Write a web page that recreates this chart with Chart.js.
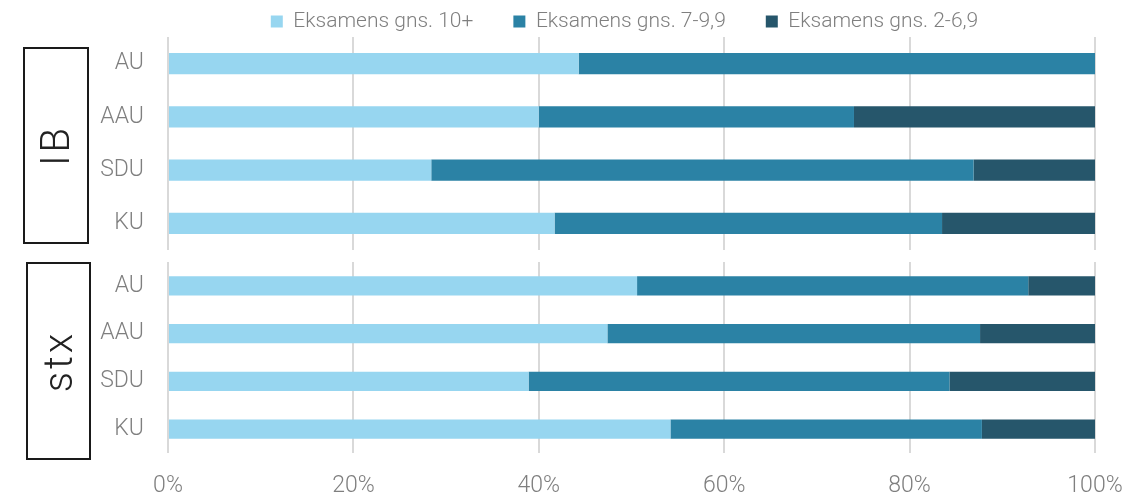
<!DOCTYPE html>
<html><head><meta charset="utf-8">
<script src="https://cdn.jsdelivr.net/npm/chart.js@4.4.1/dist/chart.umd.min.js"></script>
<style>
html,body{margin:0;padding:0;background:#fff;}
#wrap{position:relative;width:1124px;height:494px;overflow:hidden;background:#fff;}
#top{position:absolute;left:0;top:-29px;width:1124px;height:279px;}
#bot{position:absolute;left:0;top:262px;width:1124px;height:232px;}
.grp{position:absolute;box-sizing:border-box;border:2px solid #1a1a1a;display:flex;align-items:center;justify-content:center;}
.grp span{transform:rotate(-90deg);font-family:Roboto,sans-serif;font-weight:300;font-size:40px;letter-spacing:3px;color:#222;white-space:nowrap;}
</style></head>
<body><div id="wrap">
<div id="top"><canvas id="c1" width="1124" height="279"></canvas></div>
<div id="bot"><canvas id="c2" width="1124" height="232"></canvas></div>
<div class="grp" style="left:23px;top:47px;width:66px;height:197px"><span>IB</span></div>
<div class="grp" style="left:26px;top:262px;width:65px;height:198px"><span>stx</span></div>
</div>
<script>
const categories = ['AU', 'AAU', 'SDU', 'KU'];
const seriesLabels = ['Eksamens gns. 10+', 'Eksamens gns. 7-9,9', 'Eksamens gns. 2-6,9'];
const seriesColors = ['#97D6F0', '#2B82A5', '#26566B'];
const groupLabels = ['IB', 'stx'];

const ib10 = [44.3, 40.0, 28.4, 41.7];
const ib7  = [55.7, 34.0, 58.5, 41.8];
const ib2  = [0.0, 26.0, 13.1, 16.5];

const stx10 = [50.6, 47.4, 38.9, 54.2];
const stx7  = [42.2, 40.2, 45.4, 33.6];
const stx2  = [7.2, 12.4, 15.7, 12.2];

const xMin = 0, xMax = 100, xStep = 20;

const FONT = 'Roboto, sans-serif';
const GREY = '#7f7f7f';

function makeDatasets(a, b, c) {
  return [a, b, c].map((d, i) => ({
    label: seriesLabels[i],
    data: d,
    backgroundColor: seriesColors[i],
    borderWidth: 0,
    categoryPercentage: 0.8,
    barPercentage: 0.5
  }));
}

// tighten the legend block and centre it over the plot area
const legendTweak = {
  id: 'legendTweak',
  beforeLayout(chart) {
    const lg = chart.legend;
    if (lg && !lg.__patched) {
      const f = lg.fit;
      lg.fit = function () { f.call(this); this.height -= 5; };
      lg.__patched = true;
    }
  },
  afterLayout(chart) {
    const lg = chart.legend;
    if (!lg) return;
    const target = (chart.chartArea.left + chart.chartArea.right) / 2 - 7;
    const cur = (lg.left + lg.right) / 2;
    const d = target - cur;
    lg.left += d; lg.right += d;
  }
};

function makeOptions(showLegend, showXLabels, xHeight) {
  return {
    responsive: false,
    devicePixelRatio: 1,
    animation: false,
    indexAxis: 'y',
    layout: { padding: { left: 0, right: 29, top: 0, bottom: 0 } },
    plugins: {
      legend: {
        display: showLegend,
        position: 'top',
        align: 'center',
        labels: {
          boxWidth: 12, boxHeight: 12, padding: 40,
          color: GREY,
          font: { family: FONT, size: 21, weight: 300 }
        }
      },
      tooltip: { enabled: false }
    },
    scales: {
      x: {
        stacked: true,
        min: xMin, max: xMax,
        border: { display: false },
        grid: { color: '#d9d9d9', lineWidth: 2, drawTicks: false },
        ticks: {
          display: showXLabels,
          stepSize: xStep,
          padding: 19,
          color: GREY,
          font: { family: FONT, size: 23, weight: 300 },
          callback: v => v + '%',
          maxRotation: 0
        },
        afterFit: s => { s.height = xHeight; s.paddingLeft = 0; s.paddingRight = 0; }
      },
      y: {
        stacked: true,
        border: { display: false },
        grid: { display: false, drawTicks: false },
        ticks: {
          padding: 24,
          color: GREY,
          font: { family: FONT, size: 23, weight: 300 }
        },
        afterFit: s => { s.width = 168; s.paddingTop = 0; s.paddingBottom = 0; }
      }
    }
  };
}

new Chart(document.getElementById('c1'), {
  type: 'bar',
  data: { labels: categories, datasets: makeDatasets(ib10, ib7, ib2) },
  options: makeOptions(true, false, 0),
  plugins: [legendTweak]
});

new Chart(document.getElementById('c2'), {
  type: 'bar',
  data: { labels: categories, datasets: makeDatasets(stx10, stx7, stx2) },
  options: makeOptions(false, true, 41)
});
</script>
</body></html>
